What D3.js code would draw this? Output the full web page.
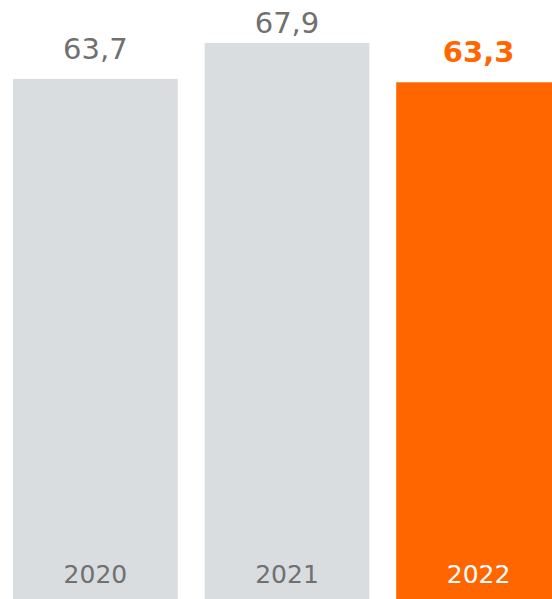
<!DOCTYPE html>
<html lang="en">
<head>
	<meta charset="utf-8">
	<title>Bars 2020-2022</title>
	<script src="https://cdn.jsdelivr.net/npm/d3@7"></script>
	<style>
		body { margin: 0; background: #fff; }
		svg { display: block; }
	</style>
</head>
<body>
	<script>
		// chart data
		var years = ["2020", "2021", "2022"];
		var values = [63.7, 67.9, 63.3];
		var valueLabels = ["63,7", "67,9", "63,3"];

		var width = 552, height = 599;
		var font = "Verdana, 'DejaVu Sans', sans-serif";

		var svg = d3.select("body")
			.append("svg")
			.attr("width", width)
			.attr("height", height);

		var dataset = years.map(function(y, i) {
			return {year: y, value: values[i], label: valueLabels[i], last: i === years.length - 1};
		});

		var xScale = d3.scaleBand()
			.domain(years)
			.range([13, 561])
			.paddingInner(0.14)
			.paddingOuter(0);

		// baseline sits below the visible area
		var yScale = d3.scaleLinear()
			.domain([0, 72.9])
			.range([625, 0]);

		// bars
		svg.selectAll("rect")
			.data(dataset)
			.enter()
			.append("rect")
			.attr("x", function(d) { return xScale(d.year); })
			.attr("y", function(d) { return yScale(d.value); })
			.attr("width", xScale.bandwidth())
			.attr("height", function(d) { return yScale(0) - yScale(d.value); })
			.attr("fill", function(d) { return d.last ? "#ff6600" : "#d9dde0"; });

		// value labels above the bars
		svg.selectAll(".value")
			.data(dataset)
			.enter()
			.append("text")
			.attr("class", "value")
			.attr("x", function(d) { return xScale(d.year) + xScale.bandwidth() / 2; })
			.attr("y", function(d) { return Math.max(yScale(d.value) - 20, 33); })
			.attr("text-anchor", "middle")
			.attr("font-family", font)
			.attr("font-size", 29)
			.attr("font-weight", function(d) { return d.last ? "bold" : "normal"; })
			.attr("fill", function(d) { return d.last ? "#ff6600" : "#707070"; })
			.text(function(d) { return d.label; });

		// year labels inside the bars
		svg.selectAll(".year")
			.data(dataset)
			.enter()
			.append("text")
			.attr("class", "year")
			.attr("x", function(d) { return xScale(d.year) + xScale.bandwidth() / 2; })
			.attr("y", 583)
			.attr("text-anchor", "middle")
			.attr("font-family", font)
			.attr("font-size", 25)
			.attr("fill", function(d) { return d.last ? "#ffffff" : "#707070"; })
			.text(function(d) { return d.year; });
	</script>
</body>
</html>
